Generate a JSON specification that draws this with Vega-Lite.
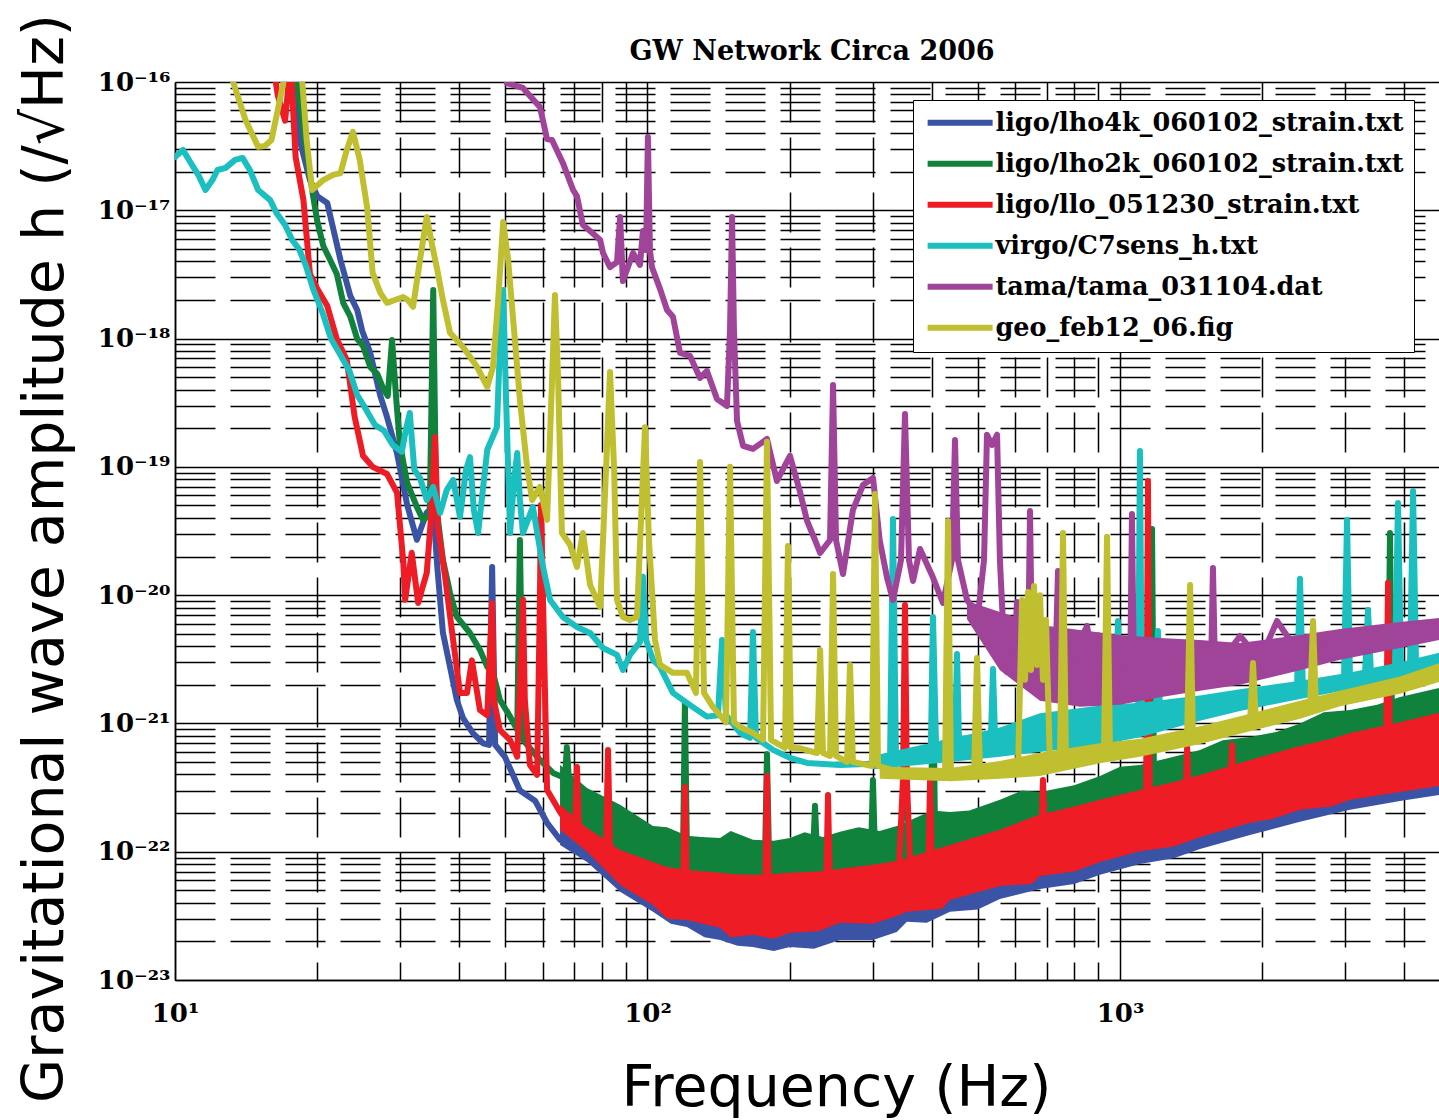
{
  "$schema": "https://vega.github.io/schema/vega-lite/v6.json",
  "width": 1264,
  "height": 898,
  "autosize": {"type": "none"},
  "padding": {"left": 175, "top": 82, "right": 0, "bottom": 140},
  "background": "white",
  "config": {"view": {"stroke": null}},
  "title": {"text": "GW Network Circa 2006", "font": "DejaVu Serif", "fontSize": 27, "fontWeight": "bold", "color": "black", "anchor": "middle", "frame": "group", "offset": 22, "baseline": "alphabetic", "dx": 5, "dy": 96},
  "datasets": {
    "L": [
      {"s":"b","f":18.1,"h":1.2e-16},{"s":"b","f":18.4,"h":3.41e-17},{"s":"b","f":19.3,"h":1.72e-17},{"s":"b","f":20.0,"h":1.29e-17},{"s":"b","f":21.0,"h":1.14e-17},{"s":"b","f":21.6,"h":7.3e-18},{"s":"b","f":22.4,"h":4.1e-18},{"s":"b","f":23.5,"h":2.15e-18},{"s":"b","f":24.3,"h":1.67e-18},{"s":"b","f":24.9,"h":1.15e-18},{"s":"b","f":25.9,"h":7.7e-19},{"s":"b","f":27.2,"h":3.57e-19},{"s":"b","f":28.1,"h":2.45e-19},{"s":"b","f":29.5,"h":1.28e-19},{"s":"b","f":31.0,"h":5.05e-20},{"s":"b","f":32.5,"h":2.7e-20},{"s":"b","f":34.1,"h":4.4e-20},{"s":"b","f":35.2,"h":4.9e-20},{"s":"b","f":35.9,"h":1.66e-20},{"s":"b","f":36.9,"h":5.1e-21},{"s":"b","f":38.2,"h":2.76e-21},{"s":"b","f":39.5,"h":1.52e-21},{"s":"b","f":40.7,"h":1.1e-21},{"s":"b","f":42.7,"h":8.4e-22},{"s":"b","f":44.9,"h":7.0e-22},{"s":"b","f":46.2,"h":6.8e-22},{"s":"b","f":46.9,"h":1.66e-20},{"s":"b","f":47.6,"h":6.8e-22},{"s":"b","f":49.9,"h":5.5e-22},{"s":"b","f":53.7,"h":3.0e-22},{"s":"b","f":57.8,"h":2.5e-22},{"s":"b","f":61.3,"h":1.68e-22},{"s":"b","f":65.3,"h":1.24e-22},

      {"s":"g","f":18.0,"h":1.24e-16},{"s":"g","f":18.7,"h":4.15e-17},{"s":"g","f":19.6,"h":1.29e-17},{"s":"g","f":20.0,"h":8.25e-18},{"s":"g","f":20.6,"h":5.27e-18},{"s":"g","f":21.3,"h":4.1e-18},{"s":"g","f":22.0,"h":3.19e-18},{"s":"g","f":22.7,"h":1.9e-18},{"s":"g","f":23.5,"h":1.48e-18},{"s":"g","f":24.3,"h":9.93e-19},{"s":"g","f":25.0,"h":8.75e-19},{"s":"g","f":25.9,"h":6.0e-19},{"s":"g","f":26.8,"h":5.3e-19},{"s":"g","f":27.6,"h":4.05e-19},{"s":"g","f":28.2,"h":3.57e-19},{"s":"g","f":28.8,"h":9.75e-19},{"s":"g","f":29.4,"h":3.33e-19},{"s":"g","f":29.9,"h":1.54e-19},{"s":"g","f":31.0,"h":7.49e-20},{"s":"g","f":32.5,"h":4.87e-20},{"s":"g","f":33.5,"h":3.86e-20},{"s":"g","f":34.6,"h":4.22e-20},{"s":"g","f":35.2,"h":2.39e-18},{"s":"g","f":35.7,"h":5.05e-20},{"s":"g","f":36.9,"h":1.88e-20},{"s":"g","f":38.2,"h":1.04e-20},{"s":"g","f":39.5,"h":6.76e-21},{"s":"g","f":42.1,"h":5.07e-21},{"s":"g","f":44.2,"h":3.74e-21},{"s":"g","f":45.8,"h":2.76e-21},{"s":"g","f":47.1,"h":2.48e-21},{"s":"g","f":48.7,"h":1.53e-21},{"s":"g","f":51.2,"h":1.13e-21},{"s":"g","f":53.0,"h":8.9e-22},{"s":"g","f":53.7,"h":2.69e-20},{"s":"g","f":54.5,"h":7.44e-22},{"s":"g","f":59.2,"h":5.19e-22},{"s":"g","f":63.1,"h":4.11e-22},{"s":"g","f":66.9,"h":3.76e-22},{"s":"g","f":67.5,"h":6.56e-22},{"s":"g","f":68.2,"h":3.63e-22},{"s":"g","f":74.5,"h":2.54e-22},{"s":"g","f":87.5,"h":1.84e-22},{"s":"g","f":102.7,"h":1.24e-22},{"s":"g","f":118.9,"h":1.0e-22},{"s":"g","f":120,"h":1.45e-21},{"s":"g","f":121.2,"h":1.0e-22},{"s":"g","f":142.4,"h":9.44e-23},{"s":"g","f":177.3,"h":9.11e-23},{"s":"g","f":179,"h":5.78e-22},{"s":"g","f":180.8,"h":9.11e-23},{"s":"g","f":224,"h":9.44e-23},{"s":"g","f":226.2,"h":2.28e-22},{"s":"g","f":228.5,"h":9.44e-23},{"s":"g","f":297.2,"h":1.0e-22},{"s":"g","f":300,"h":3.63e-22},{"s":"g","f":303,"h":1.0e-22},{"s":"g","f":342,"h":1.07e-22},{"s":"g","f":350.7,"h":3.63e-22},{"s":"g","f":359.3,"h":1.13e-22},{"s":"g","f":398,"h":1.24e-22},{"s":"g","f":402,"h":4.47e-21},{"s":"g","f":406,"h":1.24e-22},{"s":"g","f":557,"h":1.77e-22},{"s":"g","f":677,"h":2.2e-22},{"s":"g","f":907,"h":2.88e-22},{"s":"g","f":1157,"h":3.5e-22},{"s":"g","f":1169,"h":3.28e-20},{"s":"g","f":1180,"h":3.5e-22},{"s":"g","f":1477,"h":4.5e-22},{"s":"g","f":2404,"h":7.44e-22},{"s":"g","f":3692,"h":1.1e-21},{"s":"g","f":3727,"h":3.05e-20},{"s":"g","f":3764,"h":1.1e-21},{"s":"g","f":4733,"h":1.39e-21},

      {"s":"r","f":16.2,"h":1.24e-16},{"s":"r","f":16.5,"h":7.9e-17},{"s":"r","f":17.1,"h":5.0e-17},{"s":"r","f":17.4,"h":9.8e-17},{"s":"r","f":17.6,"h":1.24e-16},{"s":"r","f":18.0,"h":2.6e-17},{"s":"r","f":18.7,"h":1.2e-17},{"s":"r","f":19.3,"h":3.2e-18},{"s":"r","f":20.0,"h":2.44e-18},{"s":"r","f":21.0,"h":1.8e-18},{"s":"r","f":22.0,"h":9.9e-19},{"s":"r","f":23.1,"h":6.8e-19},{"s":"r","f":24.0,"h":2.45e-19},{"s":"r","f":25.0,"h":1.22e-19},{"s":"r","f":26.2,"h":1.0e-19},{"s":"r","f":28.1,"h":8.8e-20},{"s":"r","f":29.5,"h":6.3e-20},{"s":"r","f":30.4,"h":1.88e-20},{"s":"r","f":30.7,"h":9.2e-21},{"s":"r","f":31.7,"h":2.14e-20},{"s":"r","f":32.7,"h":8.7e-21},{"s":"r","f":34.1,"h":1.49e-20},{"s":"r","f":34.8,"h":3.9e-20},{"s":"r","f":35.5,"h":1.71e-19},{"s":"r","f":36.0,"h":3.4e-20},{"s":"r","f":37.3,"h":1.39e-20},{"s":"r","f":38.6,"h":5.1e-21},{"s":"r","f":40.1,"h":1.73e-21},{"s":"r","f":41.5,"h":1.73e-21},{"s":"r","f":42.5,"h":3.1e-21},{"s":"r","f":44.2,"h":1.27e-21},{"s":"r","f":45.8,"h":1.16e-21},{"s":"r","f":46.4,"h":3.7e-21},{"s":"r","f":46.9,"h":8.7e-21},{"s":"r","f":47.3,"h":1.53e-21},{"s":"r","f":48.7,"h":8.9e-22},{"s":"r","f":51.2,"h":7.4e-22},{"s":"r","f":53.0,"h":5.5e-22},{"s":"r","f":54.0,"h":3.7e-21},{"s":"r","f":54.5,"h":9.2e-21},{"s":"r","f":55.0,"h":1.53e-21},{"s":"r","f":56.4,"h":4.75e-22},{"s":"r","f":58.4,"h":3.97e-22},{"s":"r","f":59.2,"h":9.2e-21},{"s":"r","f":59.5,"h":5.05e-20},{"s":"r","f":60.1,"h":9.2e-21},{"s":"r","f":61.3,"h":3.03e-22},{"s":"r","f":65.3,"h":2.04e-22},{"s":"r","f":68.6,"h":1.56e-22},{"s":"r","f":70.3,"h":1.62e-22},{"s":"r","f":70.9,"h":4.58e-22},{"s":"r","f":71.6,"h":1.43e-22},{"s":"r","f":75.6,"h":1.28e-22},{"s":"r","f":81.7,"h":1.06e-22},{"s":"r","f":82.5,"h":6.22e-22},{"s":"r","f":83.3,"h":1.03e-22},{"s":"r","f":91.8,"h":8.33e-23},{"s":"r","f":102.7,"h":6.03e-23},{"s":"r","f":118.9,"h":4.77e-23},{"s":"r","f":120.0,"h":3.2e-22},{"s":"r","f":121.2,"h":4.6e-23},{"s":"r","f":142.4,"h":4.21e-23},{"s":"r","f":177.3,"h":3.85e-23},{"s":"r","f":179,"h":3.9e-22},{"s":"r","f":180.8,"h":3.85e-23},{"s":"r","f":210.3,"h":4.06e-23},{"s":"r","f":238.7,"h":4.52e-23},{"s":"r","f":241,"h":2.77e-22},{"s":"r","f":243.4,"h":4.52e-23},{"s":"r","f":281.7,"h":4.87e-23},{"s":"r","f":339,"h":5.22e-23},{"s":"r","f":347.3,"h":3.63e-22},{"s":"r","f":350.7,"h":8.39e-21},{"s":"r","f":354,"h":3.63e-22},{"s":"r","f":361,"h":5.51e-23},{"s":"r","f":392.5,"h":6.03e-23},{"s":"r","f":396.3,"h":3.63e-22},{"s":"r","f":400,"h":6.25e-23},{"s":"r","f":530.7,"h":8.33e-23},{"s":"r","f":680.6,"h":1.11e-22},{"s":"r","f":687,"h":3.63e-22},{"s":"r","f":694,"h":1.11e-22},{"s":"r","f":907,"h":1.46e-22},{"s":"r","f":1135,"h":1.74e-22},{"s":"r","f":1146,"h":7.76e-20},{"s":"r","f":1157,"h":1.74e-22},{"s":"r","f":1373,"h":2.0e-22},{"s":"r","f":1387,"h":6.45e-22},{"s":"r","f":1400,"h":2.04e-22},{"s":"r","f":1709,"h":2.58e-22},{"s":"r","f":1726,"h":6.8e-22},{"s":"r","f":1743,"h":2.58e-22},{"s":"r","f":2404,"h":3.76e-22},{"s":"r","f":3656,"h":5.29e-22},{"s":"r","f":3692,"h":1.25e-20},{"s":"r","f":3727,"h":5.29e-22},{"s":"r","f":4733,"h":6.22e-22},

      {"s":"c","f":10.0,"h":2.6e-17},{"s":"c","f":10.4,"h":2.95e-17},{"s":"c","f":10.8,"h":2.34e-17},{"s":"c","f":11.2,"h":1.89e-17},{"s":"c","f":11.6,"h":1.44e-17},{"s":"c","f":12.0,"h":1.72e-17},{"s":"c","f":12.3,"h":2.06e-17},{"s":"c","f":12.8,"h":2.14e-17},{"s":"c","f":13.4,"h":2.47e-17},{"s":"c","f":13.9,"h":2.56e-17},{"s":"c","f":14.4,"h":2.06e-17},{"s":"c","f":15.0,"h":1.44e-17},{"s":"c","f":15.9,"h":1.2e-17},{"s":"c","f":16.4,"h":9.53e-18},{"s":"c","f":17.1,"h":7.68e-18},{"s":"c","f":17.7,"h":5.87e-18},{"s":"c","f":18.3,"h":4.99e-18},{"s":"c","f":18.9,"h":3.75e-18},{"s":"c","f":19.6,"h":2.44e-18},{"s":"c","f":20.5,"h":1.61e-18},{"s":"c","f":21.4,"h":9.93e-19},{"s":"c","f":22.4,"h":7.45e-19},{"s":"c","f":23.4,"h":5.59e-19},{"s":"c","f":24.3,"h":3.63e-19},{"s":"c","f":25.4,"h":2.78e-19},{"s":"c","f":26.5,"h":2.12e-19},{"s":"c","f":27.7,"h":1.91e-19},{"s":"c","f":28.9,"h":1.48e-19},{"s":"c","f":30.2,"h":1.31e-19},{"s":"c","f":30.8,"h":1.94e-19},{"s":"c","f":31.4,"h":2.63e-19},{"s":"c","f":32.1,"h":9.46e-20},{"s":"c","f":33.0,"h":8.2e-20},{"s":"c","f":34.1,"h":5.52e-20},{"s":"c","f":35.2,"h":6.97e-20},{"s":"c","f":36.4,"h":4.37e-20},{"s":"c","f":37.6,"h":6.61e-20},{"s":"c","f":38.8,"h":7.9e-20},{"s":"c","f":40.1,"h":4.07e-20},{"s":"c","f":41.3,"h":9.46e-20},{"s":"c","f":42.1,"h":1.19e-19},{"s":"c","f":42.9,"h":4.61e-20},{"s":"c","f":43.8,"h":3.05e-20},{"s":"c","f":45.8,"h":1.36e-19},{"s":"c","f":48.0,"h":2.04e-19},{"s":"c","f":48.7,"h":8.15e-19},{"s":"c","f":49.5,"h":2.39e-18},{"s":"c","f":50.2,"h":3.33e-19},{"s":"c","f":51.2,"h":3.05e-20},{"s":"c","f":52.2,"h":7.9e-20},{"s":"c","f":53.0,"h":1.28e-19},{"s":"c","f":53.7,"h":5.52e-20},{"s":"c","f":54.5,"h":3.05e-20},{"s":"c","f":57.2,"h":4.87e-20},{"s":"c","f":60.1,"h":1.66e-20},{"s":"c","f":62.2,"h":9.17e-21},{"s":"c","f":66.2,"h":6.76e-21},{"s":"c","f":70.9,"h":5.65e-21},{"s":"c","f":75.6,"h":5.07e-21},{"s":"c","f":80.5,"h":3.87e-21},{"s":"c","f":86.2,"h":3.42e-21},{"s":"c","f":88.7,"h":2.61e-21},{"s":"c","f":91.8,"h":3.42e-21},{"s":"c","f":96.4,"h":4.32e-21},{"s":"c","f":97.8,"h":1.39e-20},{"s":"c","f":99.3,"h":4.47e-21},{"s":"c","f":102.7,"h":3.13e-21},{"s":"c","f":106.3,"h":2.76e-21},{"s":"c","f":113.2,"h":1.73e-21},{"s":"c","f":124.8,"h":1.34e-21},{"s":"c","f":133.6,"h":1.13e-21},{"s":"c","f":141.0,"h":1.16e-21},{"s":"c","f":143.8,"h":4.47e-21},{"s":"c","f":146.6,"h":1.16e-21},{"s":"c","f":157,"h":8.43e-22},{"s":"c","f":164.8,"h":7.71e-22},{"s":"c","f":167.2,"h":5.16e-21},{"s":"c","f":169.7,"h":7.71e-22},{"s":"c","f":184.4,"h":6.22e-22},{"s":"c","f":200.2,"h":5.39e-22},{"s":"c","f":217.6,"h":4.92e-22},{"s":"c","f":255.5,"h":4.75e-22},{"s":"c","f":326,"h":4.92e-22},{"s":"c","f":330.8,"h":3.93e-20},{"s":"c","f":335.7,"h":5.19e-22},{"s":"c","f":377.4,"h":6.22e-22},{"s":"c","f":398,"h":6.8e-22},{"s":"c","f":402,"h":6.76e-21},{"s":"c","f":408,"h":6.8e-22},{"s":"c","f":447.5,"h":7.44e-22},{"s":"c","f":451.9,"h":3.48e-21},{"s":"c","f":456.3,"h":7.44e-22},{"s":"c","f":533,"h":7.71e-22},{"s":"c","f":538.5,"h":2.66e-21},{"s":"c","f":544,"h":7.71e-22},{"s":"c","f":677,"h":8.9e-22},{"s":"c","f":823,"h":9.9e-22},{"s":"c","f":980,"h":1.1e-21},{"s":"c","f":990,"h":6.29e-21},{"s":"c","f":1000,"h":1.1e-21},{"s":"c","f":1092,"h":1.14e-21},{"s":"c","f":1102,"h":1.33e-19},{"s":"c","f":1113,"h":1.14e-21},{"s":"c","f":1192,"h":1.21e-21},{"s":"c","f":1203,"h":5.26e-21},{"s":"c","f":1215,"h":1.21e-21},{"s":"c","f":1477,"h":1.34e-21},{"s":"c","f":1795,"h":1.53e-21},{"s":"c","f":2369,"h":1.83e-21},{"s":"c","f":2404,"h":1.34e-20},{"s":"c","f":2439,"h":1.83e-21},{"s":"c","f":2979,"h":2.19e-21},{"s":"c","f":3023,"h":3.86e-20},{"s":"c","f":3068,"h":2.19e-21},{"s":"c","f":3300,"h":2.43e-21},{"s":"c","f":3349,"h":7.67e-21},{"s":"c","f":3398,"h":2.43e-21},{"s":"c","f":3819,"h":2.71e-21},{"s":"c","f":3876,"h":5.23e-20},{"s":"c","f":3933,"h":2.71e-21},{"s":"c","f":4110,"h":2.86e-21},{"s":"c","f":4171,"h":6.49e-20},{"s":"c","f":4232,"h":2.86e-21},{"s":"c","f":4733,"h":3.13e-21},

      {"s":"p","f":49.9,"h":1.2e-16},{"s":"p","f":50.4,"h":9.8e-17},{"s":"p","f":54.5,"h":8.98e-17},{"s":"p","f":56.4,"h":7.78e-17},{"s":"p","f":59.2,"h":6.39e-17},{"s":"p","f":61.3,"h":3.59e-17},{"s":"p","f":62.8,"h":3.53e-17},{"s":"p","f":66.2,"h":2.34e-17},{"s":"p","f":69.6,"h":1.44e-17},{"s":"p","f":70.9,"h":1.29e-17},{"s":"p","f":73.0,"h":7.68e-18},{"s":"p","f":75.6,"h":6.9e-18},{"s":"p","f":79.4,"h":5.87e-18},{"s":"p","f":80.5,"h":4.65e-18},{"s":"p","f":83.3,"h":3.6e-18},{"s":"p","f":86.2,"h":3.95e-18},{"s":"p","f":87.5,"h":8.87e-18},{"s":"p","f":88.7,"h":2.81e-18},{"s":"p","f":93.2,"h":4.65e-18},{"s":"p","f":96.4,"h":3.75e-18},{"s":"p","f":97.8,"h":6.9e-18},{"s":"p","f":99.3,"h":4.9e-18},{"s":"p","f":100.2,"h":3.73e-17},{"s":"p","f":101.2,"h":4.9e-18},{"s":"p","f":102.2,"h":3.6e-18},{"s":"p","f":106.3,"h":2.44e-18},{"s":"p","f":110,"h":1.67e-18},{"s":"p","f":113.2,"h":1.48e-18},{"s":"p","f":117.2,"h":7.72e-19},{"s":"p","f":123,"h":7.32e-19},{"s":"p","f":129.2,"h":4.93e-19},{"s":"p","f":133.6,"h":5.59e-19},{"s":"p","f":140.3,"h":3.38e-19},{"s":"p","f":147.3,"h":2.98e-19},{"s":"p","f":149.5,"h":1.16e-18},{"s":"p","f":151,"h":8.87e-18},{"s":"p","f":152.4,"h":1.16e-18},{"s":"p","f":154.7,"h":2.28e-19},{"s":"p","f":159.3,"h":1.46e-19},{"s":"p","f":167.2,"h":1.38e-19},{"s":"p","f":179,"h":1.65e-19},{"s":"p","f":187.9,"h":7.76e-20},{"s":"p","f":200.2,"h":1.22e-19},{"s":"p","f":210.3,"h":6.37e-20},{"s":"p","f":217.6,"h":3.79e-20},{"s":"p","f":226.2,"h":2.69e-20},{"s":"p","f":231.9,"h":2.13e-20},{"s":"p","f":243.4,"h":2.69e-20},{"s":"p","f":247,"h":4.35e-19},{"s":"p","f":250.6,"h":2.69e-20},{"s":"p","f":259.3,"h":1.46e-20},{"s":"p","f":272.1,"h":4.61e-20},{"s":"p","f":285.8,"h":7.22e-20},{"s":"p","f":300.1,"h":8.2e-20},{"s":"p","f":310,"h":2.69e-20},{"s":"p","f":321.3,"h":1.37e-20},{"s":"p","f":330.8,"h":9.17e-21},{"s":"p","f":344,"h":1.88e-20},{"s":"p","f":350.7,"h":2.58e-19},{"s":"p","f":357.6,"h":1.88e-20},{"s":"p","f":364.7,"h":1.29e-20},{"s":"p","f":377.4,"h":2.29e-20},{"s":"p","f":402,"h":1.37e-20},{"s":"p","f":422,"h":8.69e-21},{"s":"p","f":441,"h":1.88e-20},{"s":"p","f":447.5,"h":1.62e-19},{"s":"p","f":454,"h":1.88e-20},{"s":"p","f":474.5,"h":9.17e-21},{"s":"p","f":500.6,"h":7.01e-21},{"s":"p","f":515.5,"h":1.88e-20},{"s":"p","f":523,"h":1.78e-19},{"s":"p","f":536,"h":1.48e-19},{"s":"p","f":549.3,"h":1.78e-19},{"s":"p","f":557,"h":1.88e-20},{"s":"p","f":565.5,"h":5.86e-21},{"s":"p","f":576.5,"h":2.52e-21},{"s":"p","f":599.5,"h":4.47e-21},{"s":"p","f":605.3,"h":8.86e-21},{"s":"p","f":614.4,"h":3.74e-21},{"s":"p","f":638.8,"h":3.13e-21},{"s":"p","f":645,"h":4.53e-20},{"s":"p","f":651.4,"h":3.13e-21},{"s":"p","f":677.2,"h":1.83e-21},{"s":"p","f":711,"h":5.16e-21},{"s":"p","f":728.6,"h":2.19e-21},{"s":"p","f":739.3,"h":1.54e-20},{"s":"p","f":750.3,"h":2.19e-21},{"s":"p","f":851.6,"h":5.75e-21},{"s":"p","f":907.5,"h":1.53e-21},{"s":"p","f":1000,"h":1.83e-21},{"s":"p","f":1050,"h":1.83e-21},{"s":"p","f":1060,"h":4.29e-20},{"s":"p","f":1071,"h":1.83e-21},{"s":"p","f":1215,"h":2.19e-21},{"s":"p","f":1477,"h":2.61e-21},{"s":"p","f":1558,"h":2.61e-21},{"s":"p","f":1573,"h":1.63e-20},{"s":"p","f":1589,"h":2.61e-21},{"s":"p","f":1795,"h":4.81e-21},{"s":"p","f":1979,"h":3.13e-21},{"s":"p","f":2149,"h":6.29e-21},{"s":"p","f":2404,"h":3.42e-21},{"s":"p","f":2922,"h":4.09e-21},{"s":"p","f":3914,"h":4.9e-21},{"s":"p","f":4733,"h":5.35e-21},

      {"s":"y","f":12.8,"h":1.48e-16},{"s":"y","f":13.3,"h":9.8e-17},{"s":"y","f":14.1,"h":5.06e-17},{"s":"y","f":15.0,"h":3.12e-17},{"s":"y","f":15.5,"h":3.17e-17},{"s":"y","f":16.0,"h":3.53e-17},{"s":"y","f":16.5,"h":6.05e-17},{"s":"y","f":17.0,"h":1.04e-16},{"s":"y","f":17.4,"h":1.62e-16},{"s":"y","f":18.2,"h":1.62e-16},{"s":"y","f":18.6,"h":9.8e-17},{"s":"y","f":19.0,"h":3.53e-17},{"s":"y","f":19.5,"h":1.44e-17},{"s":"y","f":20.6,"h":1.72e-17},{"s":"y","f":21.6,"h":1.89e-17},{"s":"y","f":22.4,"h":1.95e-17},{"s":"y","f":23.1,"h":2.95e-17},{"s":"y","f":23.8,"h":4.08e-17},{"s":"y","f":24.6,"h":2.47e-17},{"s":"y","f":25.5,"h":1.06e-17},{"s":"y","f":26.2,"h":3.25e-18},{"s":"y","f":27.2,"h":2.27e-18},{"s":"y","f":28.1,"h":1.9e-18},{"s":"y","f":29.2,"h":2.0e-18},{"s":"y","f":30.4,"h":2.11e-18},{"s":"y","f":31.1,"h":2.0e-18},{"s":"y","f":31.9,"h":1.77e-18},{"s":"y","f":33.0,"h":4.1e-18},{"s":"y","f":34.1,"h":8.87e-18},{"s":"y","f":35.0,"h":5.37e-18},{"s":"y","f":35.9,"h":3.43e-18},{"s":"y","f":36.9,"h":2.0e-18},{"s":"y","f":38.2,"h":1.11e-18},{"s":"y","f":40.7,"h":8.6e-19},{"s":"y","f":43.6,"h":6.0e-19},{"s":"y","f":45.8,"h":4.2e-19},{"s":"y","f":47.1,"h":6.0e-19},{"s":"y","f":48.3,"h":2.0e-18},{"s":"y","f":49.5,"h":8.1e-18},{"s":"y","f":50.7,"h":4.1e-18},{"s":"y","f":52.4,"h":9.75e-19},{"s":"y","f":53.7,"h":3.33e-19},{"s":"y","f":55.6,"h":1.0e-19},{"s":"y","f":57.0,"h":5.52e-20},{"s":"y","f":59.2,"h":6.97e-20},{"s":"y","f":61.3,"h":3.86e-20},{"s":"y","f":62.8,"h":4.76e-19},{"s":"y","f":63.7,"h":2.19e-18},{"s":"y","f":64.7,"h":4.76e-19},{"s":"y","f":65.9,"h":3.05e-20},{"s":"y","f":68.6,"h":2.46e-20},{"s":"y","f":70.9,"h":1.66e-20},{"s":"y","f":73.0,"h":3.05e-20},{"s":"y","f":75.6,"h":1.2e-20},{"s":"y","f":79.4,"h":8.09e-21},{"s":"y","f":81.7,"h":9.46e-20},{"s":"y","f":83.3,"h":5.5e-19},{"s":"y","f":85.0,"h":9.46e-20},{"s":"y","f":86.2,"h":9.17e-21},{"s":"y","f":88.7,"h":6.76e-21},{"s":"y","f":91.8,"h":6.41e-21},{"s":"y","f":95.0,"h":6.76e-21},{"s":"y","f":96.9,"h":3.86e-20},{"s":"y","f":98.8,"h":2.04e-19},{"s":"y","f":100.7,"h":2.69e-20},{"s":"y","f":103.7,"h":4.47e-21},{"s":"y","f":106.3,"h":2.86e-21},{"s":"y","f":113.2,"h":2.48e-21},{"s":"y","f":121.2,"h":2.48e-21},{"s":"y","f":126.6,"h":1.73e-21},{"s":"y","f":129.2,"h":1.09e-19},{"s":"y","f":131.7,"h":1.73e-21},{"s":"y","f":137.6,"h":1.34e-21},{"s":"y","f":146.6,"h":1.02e-21},{"s":"y","f":149.5,"h":1.0e-19},{"s":"y","f":152.4,"h":1.02e-21},{"s":"y","f":157,"h":9.39e-22},{"s":"y","f":167.2,"h":8.43e-22},{"s":"y","f":175.6,"h":7.44e-22},{"s":"y","f":179,"h":1.57e-19},{"s":"y","f":182.6,"h":7.44e-22},{"s":"y","f":195.4,"h":6.45e-22},{"s":"y","f":198.3,"h":2.42e-20},{"s":"y","f":201.3,"h":6.45e-22},{"s":"y","f":210.3,"h":6.4e-22},{"s":"y","f":228.5,"h":5.88e-22},{"s":"y","f":231.9,"h":3.74e-21},{"s":"y","f":235.2,"h":5.88e-22},{"s":"y","f":243.4,"h":5.58e-22},{"s":"y","f":247,"h":1.46e-20},{"s":"y","f":250.6,"h":5.58e-22},{"s":"y","f":264.4,"h":5.01e-22},{"s":"y","f":268.3,"h":2.86e-21},{"s":"y","f":272.1,"h":5.01e-22},{"s":"y","f":298.6,"h":4.66e-22},{"s":"y","f":303,"h":6.15e-20},{"s":"y","f":307.5,"h":4.66e-22},{"s":"y","f":342.2,"h":4.18e-22},{"s":"y","f":386.7,"h":3.97e-22},{"s":"y","f":426.2,"h":3.9e-22},{"s":"y","f":432.5,"h":3.79e-20},{"s":"y","f":438.8,"h":3.9e-22},{"s":"y","f":490.9,"h":4.04e-22},{"s":"y","f":498.2,"h":3.24e-21},{"s":"y","f":505.6,"h":4.04e-22},{"s":"y","f":557,"h":4.18e-22},{"s":"y","f":608.4,"h":4.34e-22},{"s":"y","f":620.4,"h":9.17e-21},{"s":"y","f":629.5,"h":2.19e-21},{"s":"y","f":638.8,"h":1.06e-20},{"s":"y","f":648.2,"h":2.61e-21},{"s":"y","f":657.7,"h":1.18e-20},{"s":"y","f":667.4,"h":2.86e-21},{"s":"y","f":677.2,"h":1.0e-20},{"s":"y","f":687,"h":2.19e-21},{"s":"y","f":697.3,"h":6.41e-21},{"s":"y","f":711,"h":4.75e-22},{"s":"y","f":746.4,"h":5.01e-22},{"s":"y","f":757.5,"h":3.05e-20},{"s":"y","f":768.6,"h":5.01e-22},{"s":"y","f":843,"h":5.48e-22},{"s":"y","f":925,"h":5.88e-22},{"s":"y","f":938.6,"h":2.85e-20},{"s":"y","f":952.4,"h":5.88e-22},{"s":"y","f":1157,"h":6.68e-22},{"s":"y","f":1387,"h":7.85e-22},{"s":"y","f":1407,"h":1.2e-20},{"s":"y","f":1427,"h":7.85e-22},{"s":"y","f":1628,"h":8.74e-22},{"s":"y","f":1884,"h":9.9e-22},{"s":"y","f":1912,"h":2.96e-21},{"s":"y","f":1940,"h":9.9e-22},{"s":"y","f":2181,"h":1.13e-21},{"s":"y","f":2524,"h":1.29e-21},{"s":"y","f":2562,"h":6.29e-21},{"s":"y","f":2599,"h":1.29e-21},{"s":"y","f":3068,"h":1.61e-21},{"s":"y","f":3914,"h":2.0e-21},{"s":"y","f":4733,"h":2.52e-21}
    ],
    "B": [
      {"s":"b","f":65.3,"lo":1.13e-22,"hi":1.77e-22},{"s":"b","f":74.5,"lo":8.33e-23,"hi":1.4e-22},{"s":"b","f":87.5,"lo":4.87e-23,"hi":9.44e-23},{"s":"b","f":102.7,"lo":3.4e-23,"hi":7.6e-23},{"s":"b","f":112,"lo":2.75e-23,"hi":7.0e-23},{"s":"b","f":121.2,"lo":2.59e-23,"hi":6.6e-23},{"s":"b","f":132,"lo":2.15e-23,"hi":6.4e-23},{"s":"b","f":142.4,"lo":2.05e-23,"hi":6.25e-23},{"s":"b","f":155,"lo":1.85e-23,"hi":6.1e-23},{"s":"b","f":167.2,"lo":1.81e-23,"hi":6.03e-23},{"s":"b","f":185,"lo":1.68e-23,"hi":6.1e-23},{"s":"b","f":200.2,"lo":1.81e-23,"hi":6.25e-23},{"s":"b","f":225,"lo":1.75e-23,"hi":6.4e-23},{"s":"b","f":255.5,"lo":2.05e-23,"hi":6.72e-23},{"s":"b","f":300,"lo":2.05e-23,"hi":7.2e-23},{"s":"b","f":337,"lo":2.37e-23,"hi":7.75e-23},{"s":"b","f":354,"lo":2.84e-23,"hi":8.18e-23},{"s":"b","f":390,"lo":2.8e-23,"hi":9e-23},{"s":"b","f":436.7,"lo":3.4e-23,"hi":1.03e-22},{"s":"b","f":500,"lo":3.55e-23,"hi":1.2e-22},{"s":"b","f":557,"lo":4.28e-23,"hi":1.35e-22},{"s":"b","f":677,"lo":5.13e-23,"hi":1.77e-22},{"s":"b","f":800,"lo":5.6e-23,"hi":2.0e-22},{"s":"b","f":907,"lo":6.6e-23,"hi":2.32e-22},{"s":"b","f":1102,"lo":8.03e-23,"hi":2.77e-22},{"s":"b","f":1300,"lo":8.9e-23,"hi":3.2e-22},{"s":"b","f":1477,"lo":1.05e-22,"hi":3.63e-22},{"s":"b","f":1884,"lo":1.35e-22,"hi":4.75e-22},{"s":"b","f":2404,"lo":1.71e-22,"hi":6.22e-22},{"s":"b","f":3068,"lo":2.12e-22,"hi":7.85e-22},{"s":"b","f":3914,"lo":2.49e-22,"hi":9.4e-22},{"s":"b","f":4733,"lo":2.77e-22,"hi":1.1e-21},

      {"s":"g","f":65.3,"lo":1.94e-22,"hi":4.75e-22},{"s":"g","f":74.5,"lo":1.28e-22,"hi":3.14e-22},{"s":"g","f":87.5,"lo":8.63e-23,"hi":2.32e-22},{"s":"g","f":102.7,"lo":6.96e-23,"hi":1.59e-22},{"s":"g","f":110,"lo":6.5e-23,"hi":1.55e-22},{"s":"g","f":121.2,"lo":6.03e-23,"hi":1.33e-22},{"s":"g","f":130,"lo":5.9e-23,"hi":1.3e-22},{"s":"g","f":142.4,"lo":5.71e-23,"hi":1.28e-22},{"s":"g","f":150,"lo":5.6e-23,"hi":1.45e-22},{"s":"g","f":167.2,"lo":5.51e-23,"hi":1.24e-22},{"s":"g","f":185,"lo":5.6e-23,"hi":1.22e-22},{"s":"g","f":200.2,"lo":5.71e-23,"hi":1.28e-22},{"s":"g","f":215,"lo":5.8e-23,"hi":1.42e-22},{"s":"g","f":235,"lo":5.9e-23,"hi":1.3e-22},{"s":"g","f":255.5,"lo":6.14e-23,"hi":1.43e-22},{"s":"g","f":280,"lo":6.5e-23,"hi":1.55e-22},{"s":"g","f":310,"lo":6.8e-23,"hi":1.45e-22},{"s":"g","f":337,"lo":7.09e-23,"hi":1.59e-22},{"s":"g","f":354,"lo":7.48e-23,"hi":1.71e-22},{"s":"g","f":400,"lo":8.5e-23,"hi":2.1e-22},{"s":"g","f":436.7,"lo":9.44e-23,"hi":2.04e-22},{"s":"g","f":480,"lo":1.05e-22,"hi":2.1e-22},{"s":"g","f":557,"lo":1.24e-22,"hi":2.54e-22},{"s":"g","f":620,"lo":1.4e-22,"hi":3.0e-22},{"s":"g","f":677,"lo":1.62e-22,"hi":2.92e-22},{"s":"g","f":800,"lo":1.9e-22,"hi":3.3e-22},{"s":"g","f":907,"lo":2.12e-22,"hi":3.9e-22},{"s":"g","f":1000,"lo":2.3e-22,"hi":4.6e-22},{"s":"g","f":1102,"lo":2.54e-22,"hi":4.75e-22},{"s":"g","f":1300,"lo":3.0e-22,"hi":5.5e-22},{"s":"g","f":1477,"lo":3.32e-22,"hi":6.22e-22},{"s":"g","f":1650,"lo":3.8e-22,"hi":7.4e-22},{"s":"g","f":1884,"lo":4.34e-22,"hi":7.85e-22},{"s":"g","f":2150,"lo":4.9e-22,"hi":8.6e-22},{"s":"g","f":2404,"lo":5.58e-22,"hi":1.0e-21},{"s":"g","f":2700,"lo":6.3e-22,"hi":1.22e-21},{"s":"g","f":3068,"lo":7.05e-22,"hi":1.27e-21},{"s":"g","f":3500,"lo":7.8e-22,"hi":1.4e-21},{"s":"g","f":3914,"lo":8.59e-22,"hi":1.61e-21},{"s":"g","f":4733,"lo":1.0e-21,"hi":1.89e-21},

      {"s":"r","f":65.3,"lo":1.48e-22,"hi":2.32e-22},{"s":"r","f":74.5,"lo":1.0e-22,"hi":1.53e-22},{"s":"r","f":87.5,"lo":5.51e-23,"hi":1.03e-22},{"s":"r","f":102.7,"lo":3.85e-23,"hi":8.33e-23},{"s":"r","f":110,"lo":3.0e-23,"hi":7.6e-23},{"s":"r","f":121.2,"lo":2.94e-23,"hi":7.21e-23},{"s":"r","f":142.4,"lo":2.55e-23,"hi":6.84e-23},{"s":"r","f":150,"lo":2.15e-23,"hi":6.7e-23},{"s":"r","f":167.2,"lo":2.25e-23,"hi":6.6e-23},{"s":"r","f":185,"lo":2.1e-23,"hi":6.7e-23},{"s":"r","f":200.2,"lo":2.33e-23,"hi":6.84e-23},{"s":"r","f":230,"lo":2.4e-23,"hi":7.0e-23},{"s":"r","f":255.5,"lo":2.8e-23,"hi":7.37e-23},{"s":"r","f":300,"lo":2.75e-23,"hi":7.9e-23},{"s":"r","f":337,"lo":3.16e-23,"hi":8.48e-23},{"s":"r","f":354,"lo":3.4e-23,"hi":8.95e-23},{"s":"r","f":420,"lo":3.6e-23,"hi":1.08e-22},{"s":"r","f":436.7,"lo":4.21e-23,"hi":1.13e-22},{"s":"r","f":557,"lo":5.41e-23,"hi":1.48e-22},{"s":"r","f":650,"lo":5.6e-23,"hi":1.85e-22},{"s":"r","f":677,"lo":6.48e-23,"hi":1.94e-22},{"s":"r","f":800,"lo":7.0e-23,"hi":2.25e-22},{"s":"r","f":907,"lo":8.33e-23,"hi":2.54e-22},{"s":"r","f":1102,"lo":1.01e-22,"hi":3.03e-22},{"s":"r","f":1300,"lo":1.1e-22,"hi":3.5e-22},{"s":"r","f":1477,"lo":1.3e-22,"hi":3.97e-22},{"s":"r","f":1884,"lo":1.68e-22,"hi":5.19e-22},{"s":"r","f":2100,"lo":1.8e-22,"hi":5.8e-22},{"s":"r","f":2404,"lo":2.12e-22,"hi":6.68e-22},{"s":"r","f":2800,"lo":2.25e-22,"hi":7.6e-22},{"s":"r","f":3068,"lo":2.54e-22,"hi":8.43e-22},{"s":"r","f":3914,"lo":2.92e-22,"hi":1.02e-21},{"s":"r","f":4733,"lo":3.26e-22,"hi":1.21e-21},

      {"s":"c","f":300,"lo":4.4e-22,"hi":5.6e-22},{"s":"c","f":436.7,"lo":5.0e-22,"hi":7.6e-22},{"s":"c","f":557,"lo":5.5e-22,"hi":9.3e-22},{"s":"c","f":677,"lo":6.0e-22,"hi":1.2e-21},{"s":"c","f":907,"lo":6.8e-22,"hi":1.38e-21},{"s":"c","f":1102,"lo":7.8e-22,"hi":1.45e-21},{"s":"c","f":1477,"lo":1.05e-21,"hi":1.65e-21},{"s":"c","f":1795,"lo":1.25e-21,"hi":1.85e-21},{"s":"c","f":2404,"lo":1.55e-21,"hi":2.15e-21},{"s":"c","f":3068,"lo":1.85e-21,"hi":2.5e-21},{"s":"c","f":3914,"lo":2.2e-21,"hi":3.0e-21},{"s":"c","f":4733,"lo":2.61e-21,"hi":3.55e-21},

      {"s":"p","f":474.5,"lo":6.5e-21,"hi":9e-21},{"s":"p","f":557,"lo":2.6e-21,"hi":7.4e-21},{"s":"p","f":677,"lo":1.5e-21,"hi":5.86e-21},{"s":"p","f":823,"lo":1.35e-21,"hi":5.35e-21},{"s":"p","f":1000,"lo":1.4e-21,"hi":4.9e-21},{"s":"p","f":1215,"lo":1.6e-21,"hi":4.64e-21},{"s":"p","f":1477,"lo":1.8e-21,"hi":4.47e-21},{"s":"p","f":1795,"lo":2.0e-21,"hi":4.24e-21},{"s":"p","f":2404,"lo":2.6e-21,"hi":4.9e-21},{"s":"p","f":2922,"lo":3.13e-21,"hi":5.45e-21},{"s":"p","f":3914,"lo":3.87e-21,"hi":6.18e-21},{"s":"p","f":4733,"lo":4.47e-21,"hi":6.64e-21},

      {"s":"y","f":310,"lo":3.7e-22,"hi":4.6e-22},{"s":"y","f":436.7,"lo":3.55e-22,"hi":4.5e-22},{"s":"y","f":557,"lo":3.7e-22,"hi":5.1e-22},{"s":"y","f":677,"lo":3.9e-22,"hi":5.9e-22},{"s":"y","f":907,"lo":4.9e-22,"hi":7.0e-22},{"s":"y","f":1102,"lo":5.5e-22,"hi":7.6e-22},{"s":"y","f":1477,"lo":6.9e-22,"hi":9.5e-22},{"s":"y","f":1795,"lo":8.3e-22,"hi":1.14e-21},{"s":"y","f":2404,"lo":1.09e-21,"hi":1.5e-21},{"s":"y","f":2922,"lo":1.36e-21,"hi":1.8e-21},{"s":"y","f":3914,"lo":1.7e-21,"hi":2.32e-21},{"s":"y","f":4733,"lo":2.1e-21,"hi":2.95e-21}
    ]
  },
  "layer": [
    {
      "data": {"name": "B"},
      "transform": [{"filter": "datum.s === 'b'"}],
      "mark": {"type": "area", "color": "#3b53a4", "clip": true},
      "encoding": {
        "x": {"field": "f", "type": "quantitative",
          "scale": {"type": "log", "domain": [10, 4733], "nice": false},
          "axis": {
            "values": [10,20,30,40,50,60,70,80,90,100,200,300,400,500,600,700,800,900,1000,2000,3000,4000],
            "labelExpr": "abs(log(datum.value)/LN10 - round(log(datum.value)/LN10)) < 0.001 ? ['10¹','10²','10³'][round(log(datum.value)/LN10)-1] : ''",
            "grid": true, "gridColor": "black", "gridOpacity": 1, "gridWidth": 1.5,
            "gridDash": {"condition": {"test": "abs(log(datum.value)/LN10 - round(log(datum.value)/LN10)) < 0.001", "value": []}, "value": [40, 15]},
            "ticks": false, "domain": true, "domainColor": "black", "domainWidth": 1.5,
            "labelFont": "DejaVu Serif", "labelFontWeight": "bold", "labelFontSize": 26, "labelColor": "black",
            "labelPadding": 20, "labelFlush": false, "labelOverlap": false, "labelBound": false, "labelBaseline": "top",
            "title": "Frequency (Hz)", "titleFont": "DejaVu Sans", "titleFontSize": 57, "titleFontWeight": "normal", "titleColor": "black",
            "titleX": 661, "titleY": 125, "titleBaseline": "alphabetic", "titleAlign": "center", "titleAngle": 0
          }
        },
        "y": {"field": "lo", "type": "quantitative",
          "scale": {"type": "log", "domain": [1e-23, 1e-16], "nice": false},
          "axis": {
            "values": [1e-23,2e-23,3e-23,4e-23,5e-23,6e-23,7e-23,8e-23,9e-23,1e-22,2e-22,3e-22,4e-22,5e-22,6e-22,7e-22,8e-22,9e-22,1e-21,2e-21,3e-21,4e-21,5e-21,6e-21,7e-21,8e-21,9e-21,1e-20,2e-20,3e-20,4e-20,5e-20,6e-20,7e-20,8e-20,9e-20,1e-19,2e-19,3e-19,4e-19,5e-19,6e-19,7e-19,8e-19,9e-19,1e-18,2e-18,3e-18,4e-18,5e-18,6e-18,7e-18,8e-18,9e-18,1e-17,2e-17,3e-17,4e-17,5e-17,6e-17,7e-17,8e-17,9e-17,1e-16],
            "labelExpr": "abs(log(datum.value)/LN10 - round(log(datum.value)/LN10)) < 0.001 ? ['10⁻²³','10⁻²²','10⁻²¹','10⁻²⁰','10⁻¹⁹','10⁻¹⁸','10⁻¹⁷','10⁻¹⁶'][round(log(datum.value)/LN10)+23] : ''",
            "grid": true, "gridColor": "black", "gridOpacity": 1, "gridWidth": 1.5,
            "gridDash": {"condition": {"test": "abs(log(datum.value)/LN10 - round(log(datum.value)/LN10)) < 0.001", "value": []}, "value": [40, 15]},
            "ticks": false, "domain": true, "domainColor": "black", "domainWidth": 1.5,
            "labelFont": "DejaVu Serif", "labelFontWeight": "bold", "labelFontSize": 26, "labelColor": "black",
            "labelPadding": 5, "labelFlush": false, "labelOverlap": false, "labelBound": false, "labelBaseline": "middle", "labelAlign": "right",
            "title": "Gravitational wave amplitude h (/√Hz)", "titleFont": "DejaVu Sans", "titleFontSize": 57, "titleFontWeight": "normal", "titleColor": "black",
            "titleX": -113, "titleY": 476, "titleBaseline": "alphabetic", "titleAlign": "center", "titleAngle": 270
          }
        },
        "y2": {"field": "hi"}
      }
    },
    {
      "data": {"name": "L"},
      "transform": [{"filter": "datum.s === 'b'"}],
      "mark": {"type": "line", "strokeWidth": 6, "strokeJoin": "round", "strokeCap": "round", "clip": true},
      "encoding": {
        "x": {"field": "f", "type": "quantitative", "scale": {"type": "log", "domain": [10, 4733], "nice": false}},
        "y": {"field": "h", "type": "quantitative", "scale": {"type": "log", "domain": [1e-23, 1e-16], "nice": false}},
        "color": {"field": "s", "type": "nominal",
          "scale": {"domain": ["b","g","r","c","p","y"], "range": ["#3b53a4","#10823c","#ee1c25","#1bbfbf","#a0449a","#bfbf30"]},
          "legend": {
            "orient": "none", "legendX": 738, "legendY": 18, "title": null, "direction": "vertical",
            "symbolType": "M-1,0L7,0", "symbolSize": 264, "symbolStrokeWidth": 6,
            "labelFont": "DejaVu Serif", "labelFontWeight": "bold", "labelFontSize": 25.5, "labelColor": "black", "labelLimit": 700,
            "labelOffset": 47, "rowPadding": 14, "padding": 10,
            "strokeColor": "black", "fillColor": "white",
            "labelExpr": "datum.value === 'b' ? 'ligo/lho4k_060102_strain.txt' : datum.value === 'g' ? 'ligo/lho2k_060102_strain.txt' : datum.value === 'r' ? 'ligo/llo_051230_strain.txt' : datum.value === 'c' ? 'virgo/C7sens_h.txt' : datum.value === 'p' ? 'tama/tama_031104.dat' : 'geo_feb12_06.fig'"
          }
        }
      }
    },
    {
      "data": {"name": "B"},
      "transform": [{"filter": "datum.s === 'g'"}],
      "mark": {"type": "area", "color": "#10823c", "clip": true},
      "encoding": {
        "x": {"field": "f", "type": "quantitative", "scale": {"type": "log", "domain": [10, 4733], "nice": false}},
        "y": {"field": "lo", "type": "quantitative", "scale": {"type": "log", "domain": [1e-23, 1e-16], "nice": false}},
        "y2": {"field": "hi"}
      }
    },
    {
      "data": {"name": "L"},
      "transform": [{"filter": "datum.s === 'g'"}],
      "mark": {"type": "line", "strokeWidth": 6, "strokeJoin": "round", "strokeCap": "round", "clip": true},
      "encoding": {
        "x": {"field": "f", "type": "quantitative", "scale": {"type": "log", "domain": [10, 4733], "nice": false}},
        "y": {"field": "h", "type": "quantitative", "scale": {"type": "log", "domain": [1e-23, 1e-16], "nice": false}},
        "color": {"field": "s", "type": "nominal", "scale": {"domain": ["b","g","r","c","p","y"], "range": ["#3b53a4","#10823c","#ee1c25","#1bbfbf","#a0449a","#bfbf30"]}}
      }
    },
    {
      "data": {"name": "B"},
      "transform": [{"filter": "datum.s === 'r'"}],
      "mark": {"type": "area", "color": "#ee1c25", "clip": true},
      "encoding": {
        "x": {"field": "f", "type": "quantitative", "scale": {"type": "log", "domain": [10, 4733], "nice": false}},
        "y": {"field": "lo", "type": "quantitative", "scale": {"type": "log", "domain": [1e-23, 1e-16], "nice": false}},
        "y2": {"field": "hi"}
      }
    },
    {
      "data": {"name": "L"},
      "transform": [{"filter": "datum.s === 'r'"}],
      "mark": {"type": "line", "strokeWidth": 6, "strokeJoin": "round", "strokeCap": "round", "clip": true},
      "encoding": {
        "x": {"field": "f", "type": "quantitative", "scale": {"type": "log", "domain": [10, 4733], "nice": false}},
        "y": {"field": "h", "type": "quantitative", "scale": {"type": "log", "domain": [1e-23, 1e-16], "nice": false}},
        "color": {"field": "s", "type": "nominal", "scale": {"domain": ["b","g","r","c","p","y"], "range": ["#3b53a4","#10823c","#ee1c25","#1bbfbf","#a0449a","#bfbf30"]}}
      }
    },
    {
      "data": {"name": "B"},
      "transform": [{"filter": "datum.s === 'c'"}],
      "mark": {"type": "area", "color": "#1bbfbf", "clip": true},
      "encoding": {
        "x": {"field": "f", "type": "quantitative", "scale": {"type": "log", "domain": [10, 4733], "nice": false}},
        "y": {"field": "lo", "type": "quantitative", "scale": {"type": "log", "domain": [1e-23, 1e-16], "nice": false}},
        "y2": {"field": "hi"}
      }
    },
    {
      "data": {"name": "L"},
      "transform": [{"filter": "datum.s === 'c'"}],
      "mark": {"type": "line", "strokeWidth": 6, "strokeJoin": "round", "strokeCap": "round", "clip": true},
      "encoding": {
        "x": {"field": "f", "type": "quantitative", "scale": {"type": "log", "domain": [10, 4733], "nice": false}},
        "y": {"field": "h", "type": "quantitative", "scale": {"type": "log", "domain": [1e-23, 1e-16], "nice": false}},
        "color": {"field": "s", "type": "nominal", "scale": {"domain": ["b","g","r","c","p","y"], "range": ["#3b53a4","#10823c","#ee1c25","#1bbfbf","#a0449a","#bfbf30"]}}
      }
    },
    {
      "data": {"name": "B"},
      "transform": [{"filter": "datum.s === 'p'"}],
      "mark": {"type": "area", "color": "#a0449a", "clip": true},
      "encoding": {
        "x": {"field": "f", "type": "quantitative", "scale": {"type": "log", "domain": [10, 4733], "nice": false}},
        "y": {"field": "lo", "type": "quantitative", "scale": {"type": "log", "domain": [1e-23, 1e-16], "nice": false}},
        "y2": {"field": "hi"}
      }
    },
    {
      "data": {"name": "L"},
      "transform": [{"filter": "datum.s === 'p'"}],
      "mark": {"type": "line", "strokeWidth": 6, "strokeJoin": "round", "strokeCap": "round", "clip": true},
      "encoding": {
        "x": {"field": "f", "type": "quantitative", "scale": {"type": "log", "domain": [10, 4733], "nice": false}},
        "y": {"field": "h", "type": "quantitative", "scale": {"type": "log", "domain": [1e-23, 1e-16], "nice": false}},
        "color": {"field": "s", "type": "nominal", "scale": {"domain": ["b","g","r","c","p","y"], "range": ["#3b53a4","#10823c","#ee1c25","#1bbfbf","#a0449a","#bfbf30"]}}
      }
    },
    {
      "data": {"name": "B"},
      "transform": [{"filter": "datum.s === 'y'"}],
      "mark": {"type": "area", "color": "#bfbf30", "clip": true},
      "encoding": {
        "x": {"field": "f", "type": "quantitative", "scale": {"type": "log", "domain": [10, 4733], "nice": false}},
        "y": {"field": "lo", "type": "quantitative", "scale": {"type": "log", "domain": [1e-23, 1e-16], "nice": false}},
        "y2": {"field": "hi"}
      }
    },
    {
      "data": {"name": "L"},
      "transform": [{"filter": "datum.s === 'y'"}],
      "mark": {"type": "line", "strokeWidth": 6, "strokeJoin": "round", "strokeCap": "round", "clip": true},
      "encoding": {
        "x": {"field": "f", "type": "quantitative", "scale": {"type": "log", "domain": [10, 4733], "nice": false}},
        "y": {"field": "h", "type": "quantitative", "scale": {"type": "log", "domain": [1e-23, 1e-16], "nice": false}},
        "color": {"field": "s", "type": "nominal", "scale": {"domain": ["b","g","r","c","p","y"], "range": ["#3b53a4","#10823c","#ee1c25","#1bbfbf","#a0449a","#bfbf30"]}}
      }
    }
  ]
}
